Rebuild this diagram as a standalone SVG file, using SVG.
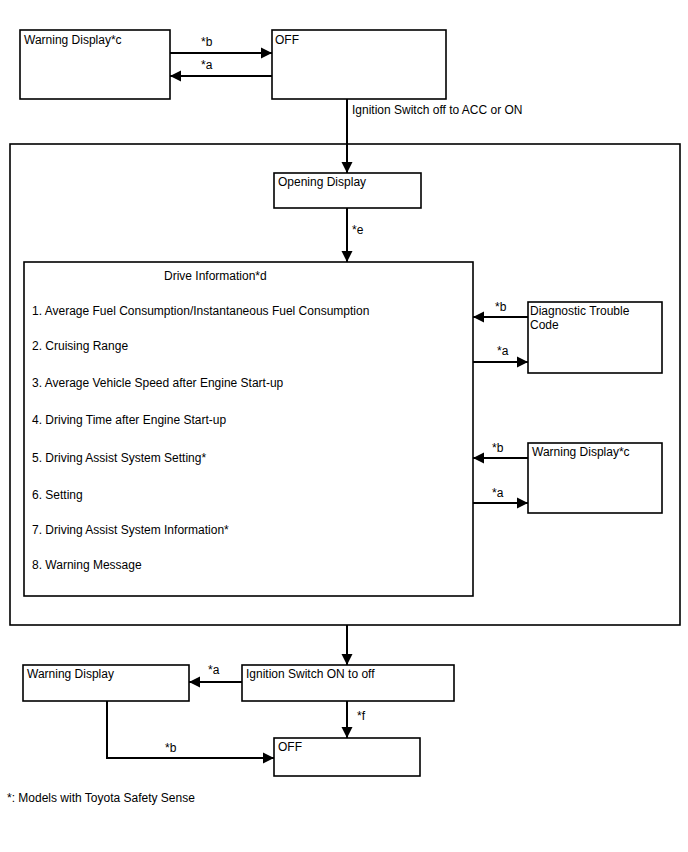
<svg xmlns="http://www.w3.org/2000/svg" width="688" height="852" viewBox="0 0 688 852">
<style>
.box{fill:#fff;stroke:#000;stroke-width:1.6}
.frame{fill:none;stroke:#000;stroke-width:1.6}
.c{fill:none;stroke:#000;stroke-width:2}
text{font-family:"Liberation Sans",Arial,sans-serif;font-size:12px;fill:#000}
</style>
<defs>
<marker id="ah" markerUnits="userSpaceOnUse" markerWidth="12" markerHeight="12" viewBox="0 0 12 12" refX="11" refY="6" orient="auto">
<path d="M0,0.5 L11,6 L0,11.5 Z" fill="#000"/>
</marker>
</defs>
<rect class="frame" x="10" y="144" width="670" height="481"/>
<g id="wd-top"><rect class="box" x="20" y="30" width="150" height="69"/><text x="24" y="44">Warning Display*c</text></g>
<g id="off-top"><rect class="box" x="272" y="30" width="174" height="69"/><text x="275" y="44">OFF</text></g>
<g id="opening"><rect class="box" x="274" y="173" width="147" height="35"/><text x="278" y="186">Opening Display</text></g>
<g id="drive"><rect class="box" x="24" y="262" width="449" height="334"/>
<text x="164" y="280">Drive Information*d</text>
<text x="32" y="315">1. Average Fuel Consumption/Instantaneous Fuel Consumption</text>
<text x="32" y="350">2. Cruising Range</text>
<text x="32" y="387">3. Average Vehicle Speed after Engine Start-up</text>
<text x="32" y="424">4. Driving Time after Engine Start-up</text>
<text x="32" y="462">5. Driving Assist System Setting*</text>
<text x="32" y="499">6. Setting</text>
<text x="32" y="534">7. Driving Assist System Information*</text>
<text x="32" y="569">8. Warning Message</text>
</g>
<g id="dtc"><rect class="box" x="528" y="302" width="134" height="71"/><text x="530" y="315">Diagnostic Trouble</text><text x="530" y="329">Code</text></g>
<g id="wd-right"><rect class="box" x="528" y="443" width="134" height="70"/><text x="532" y="456">Warning Display*c</text></g>
<g id="ign-off"><rect class="box" x="242" y="665" width="212" height="36"/><text x="246" y="678">Ignition Switch ON to off</text></g>
<g id="wd-bottom"><rect class="box" x="23" y="665" width="166" height="36"/><text x="27" y="678">Warning Display</text></g>
<g id="off-bottom"><rect class="box" x="274" y="738" width="146" height="38"/><text x="278" y="751">OFF</text></g>
<g id="connectors">
<line class="c" x1="170" y1="53" x2="272" y2="53" marker-end="url(#ah)"/>
<line class="c" x1="272" y1="76" x2="170" y2="76" marker-end="url(#ah)"/>
<line class="c" x1="347" y1="99" x2="347" y2="173" marker-end="url(#ah)"/>
<line class="c" x1="347" y1="208" x2="347" y2="262" marker-end="url(#ah)"/>
<line class="c" x1="528" y1="317" x2="473" y2="317" marker-end="url(#ah)"/>
<line class="c" x1="473" y1="362" x2="528" y2="362" marker-end="url(#ah)"/>
<line class="c" x1="528" y1="458" x2="473" y2="458" marker-end="url(#ah)"/>
<line class="c" x1="473" y1="503" x2="528" y2="503" marker-end="url(#ah)"/>
<line class="c" x1="347" y1="625" x2="347" y2="665" marker-end="url(#ah)"/>
<line class="c" x1="242" y1="682" x2="189" y2="682" marker-end="url(#ah)"/>
<line class="c" x1="347" y1="701" x2="347" y2="738" marker-end="url(#ah)"/>
<polyline class="c" points="107,701 107,758 274,758" marker-end="url(#ah)"/>
<text x="201" y="46">*b</text>
<text x="201" y="69">*a</text>
<text x="352" y="114">Ignition Switch off to ACC or ON</text>
<text x="352" y="234">*e</text>
<text x="495" y="311">*b</text>
<text x="497" y="355">*a</text>
<text x="492" y="452">*b</text>
<text x="492" y="497">*a</text>
<text x="208" y="674">*a</text>
<text x="357" y="720">*f</text>
<text x="165" y="752">*b</text>
</g>
<text x="7" y="802">*: Models with Toyota Safety Sense</text>
</svg>
